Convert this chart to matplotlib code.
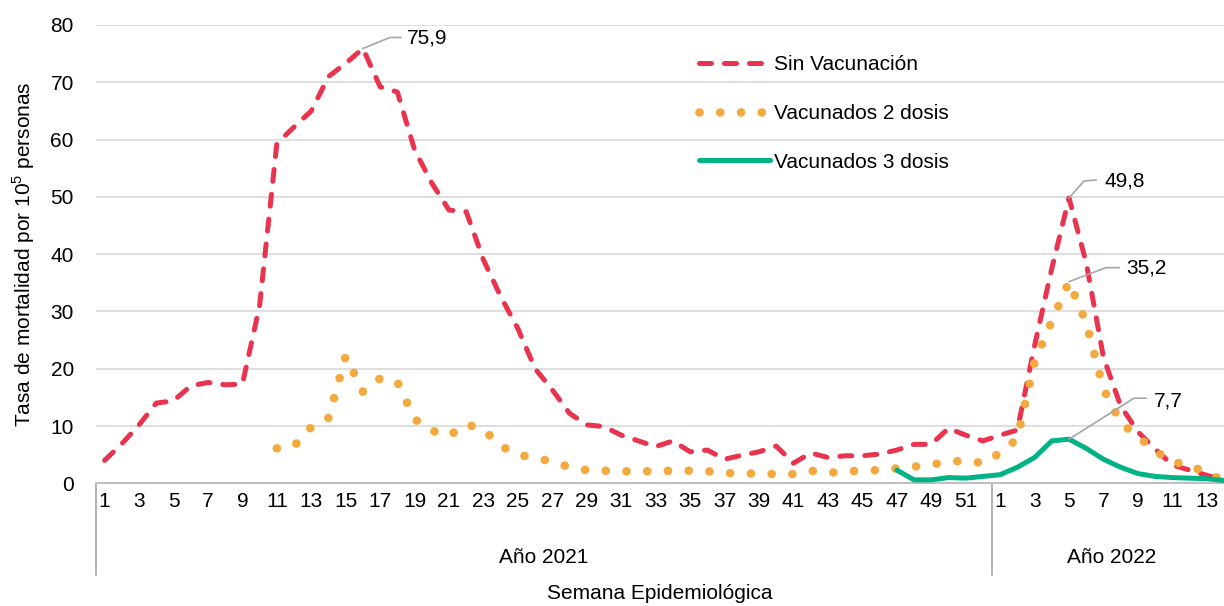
import matplotlib
matplotlib.use("Agg")
import matplotlib.pyplot as plt
import matplotlib.transforms as mtransforms
import numpy as np

plt.rcParams["font.family"] = ["Liberation Sans", "DejaVu Sans"]
plt.rcParams["mathtext.fontset"] = "custom"
plt.rcParams["mathtext.rm"] = "Liberation Sans"

# Semanas epidemiológicas: 2021 (1-52) y 2022 (1-14)
weeks_2021 = list(range(1, 53))
weeks_2022 = list(range(1, 15))

sin_vac_2021 = [4.0, 6.9, 10.2, 14.0, 14.4, 17.0, 17.6, 17.2, 17.3, 31.0,
                59.3, 62.2, 65.0, 71.0, 73.3, 75.9, 69.2, 68.3, 58.2, 52.4,
                47.7, 47.4, 39.0, 32.6, 27.0, 20.0, 16.3, 12.2, 10.2, 9.9,
                8.4, 7.4, 6.4, 7.4, 5.5, 5.8, 4.2, 4.9, 5.5, 6.5,
                3.5, 5.3, 4.5, 4.8, 4.8, 5.1, 5.8, 6.8, 6.8, 9.6,
                8.4, 7.4]
sin_vac_2022 = [8.4, 9.3, 24.0, 37.5, 49.8, 38.5, 22.0, 13.5, 9.0, 6.0,
                3.2, 2.3, 1.4, 0.5]

dos_dosis_2021 = [None] * 10 + [
                6.1, 6.5, 9.8, 11.4, 22.2, 16.0, 18.3, 17.7, 11.2, 9.2,
                8.3, 10.3, 9.4, 6.5, 5.0, 4.4, 3.8, 2.8, 2.3, 2.2,
                2.1, 2.1, 2.1, 2.2, 2.2, 2.1, 1.8, 1.7, 1.7, 1.6,
                1.6, 2.2, 1.8, 2.1, 2.2, 2.3, 2.6, 2.9, 3.3, 3.7,
                4.0, 3.5]
dos_dosis_2022 = [5.3, 7.8, 21.2, 28.3, 35.2, 28.0, 16.5, 10.6, 8.1, 5.7,
                  3.6, 3.4, 1.5, 0.7]

tres_dosis_2021 = [None] * 46 + [2.3, 0.6, 0.6, 1.0, 0.9, 1.2]
tres_dosis_2022 = [1.5, 2.8, 4.5, 7.4, 7.7, 6.1, 4.2, 2.8, 1.7, 1.2,
                   1.0, 0.9, 0.8, 0.5]

RED = "#E9334F"
ORANGE = "#F4A93F"
GREEN = "#00B386"
GRID = "#D9D9D9"
LEADER = "#A6A6A6"
FS = 15


def as_array(values):
    return np.array([np.nan if v is None else v for v in values], dtype=float)


sin_vac = as_array(sin_vac_2021 + sin_vac_2022)
dos_dosis = as_array(dos_dosis_2021 + dos_dosis_2022)
tres_dosis = as_array(tres_dosis_2021 + tres_dosis_2022)
x = np.arange(len(sin_vac))
n21 = len(weeks_2021)

fig = plt.figure(figsize=(12.24, 6.06), dpi=100)
ax = fig.add_axes([96 / 1224, (606 - 483.3) / 606, 1 - 96 / 1224, (483.3 - 25) / 606])

ax.plot(x, sin_vac, color=RED, lw=3.6, dashes=(2.4, 2.6), dash_capstyle="round",
        solid_joinstyle="round", label="Sin Vacunación", zorder=3)
ax.plot(x, dos_dosis, color=ORANGE, lw=6.2, dashes=(0.01, 2.4), dash_capstyle="round",
        label="Vacunados 2 dosis", zorder=4)
ax.plot(x, tres_dosis, color=GREEN, lw=3.6, solid_capstyle="round",
        solid_joinstyle="round", label="Vacunados 3 dosis", zorder=5)

ax.set_ylim(0, 80)
ax.set_xlim(-0.5, 64.74)
ax.set_yticks(range(0, 81, 10))
ax.yaxis.grid(True, color=GRID, lw=1.2)
ax.set_axisbelow(True)
for side in ["top", "right", "left"]:
    ax.spines[side].set_visible(False)
ax.spines["bottom"].set_color("#BFBFBF")
ax.spines["bottom"].set_linewidth(1.5)
ax.spines["bottom"].set_zorder(2)

tick_labels = [str(w) if w % 2 == 1 else "" for w in weeks_2021 + weeks_2022]
ax.set_xticks(x)
ax.set_xticklabels(tick_labels, fontsize=FS)
ax.tick_params(axis="x", length=0, pad=6)
ax.tick_params(axis="y", length=0, pad=16, labelsize=FS)

ax.set_ylabel("Tasa de mortalidad por 10$^5$ personas", fontsize=FS, labelpad=10)

# eje de categorías en dos niveles
blend = mtransforms.blended_transform_factory(ax.transData, ax.transAxes)
for xs in [-0.5, n21 - 0.5]:
    ax.plot([xs, xs], [0, -0.2], color="#A6A6A6", lw=1.2, transform=blend, clip_on=False)
ax.text((n21 - 1) / 2, -0.161, "Año 2021", transform=blend, ha="center", va="center", fontsize=FS)
ax.text(n21 - 0.5 + 7, -0.161, "Año 2022", transform=blend, ha="center", va="center", fontsize=FS)
ax.text(0.5, -0.2415, "Semana Epidemiológica", transform=ax.transAxes,
        ha="center", va="center", fontsize=FS)


# etiquetas de valor con línea guía (offsets en píxeles)
def label_point(idx, value, text, leader, text_dx, text_dy):
    px, py = ax.transData.transform((idx, value))
    pts = [(px + dx, py + dy) for dx, dy in leader]
    data_pts = ax.transData.inverted().transform(pts)
    ax.plot(data_pts[:, 0], data_pts[:, 1], color=LEADER, lw=1.2, clip_on=False, zorder=6)
    tx, ty = ax.transData.inverted().transform((px + text_dx, py + text_dy))
    ax.text(tx, ty, text, ha="left", va="center", fontsize=FS, zorder=6)


i_peak21 = int(np.nanargmax(sin_vac[:n21]))
i_peak22 = n21 + int(np.nanargmax(sin_vac[n21:]))
label_point(i_peak21, sin_vac[i_peak21], "75,9", [(0, 0), (27, 11), (38, 11)], 44, 10)
label_point(i_peak22, sin_vac[i_peak22], "49,8", [(0, 0), (15, 17), (27, 18)], 35, 17)
label_point(i_peak22, dos_dosis[i_peak22], "35,2", [(0, 0), (37, 14), (50, 14)], 57, 14)
label_point(i_peak22, tres_dosis[i_peak22], "7,7", [(0, 0), (65, 41), (77, 41)], 85, 38)

leg = ax.legend(loc="upper left", bbox_to_anchor=(689 / 1224, 1 - 45 / 606),
                bbox_transform=fig.transFigure, frameon=False, fontsize=FS,
                handlelength=3.4, handletextpad=0.2, labelspacing=1.42, borderpad=0)

fig.savefig("out.png", dpi=100)
